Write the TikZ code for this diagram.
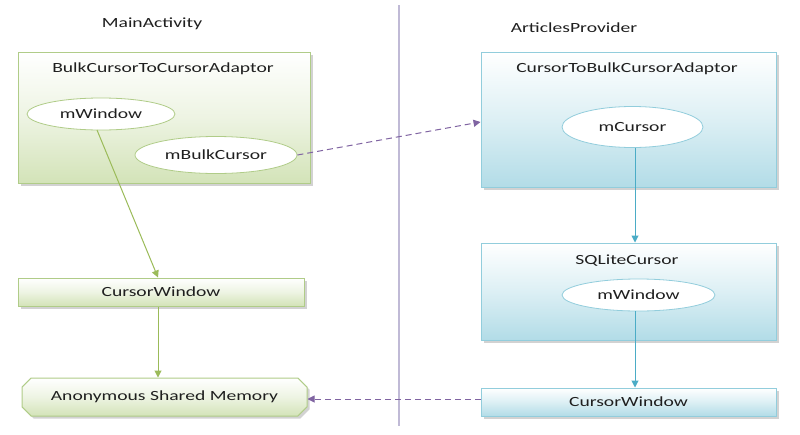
\documentclass[tikz,border=0pt]{standalone}
\usepackage{fontspec}
\setmainfont{Carlito}[FakeStretch=1.4]
\usetikzlibrary{arrows.meta,shapes.misc,shapes.geometric,shadows}
\definecolor{gfill}{HTML}{D3E3B8}
\definecolor{gdraw}{HTML}{B0CC88}
\definecolor{gline}{HTML}{9BBB59}
\definecolor{bfill}{HTML}{B2DCE7}
\definecolor{bdraw}{HTML}{92CDDC}
\definecolor{bline}{HTML}{4BACC6}
\definecolor{pline}{HTML}{8064A2}
\definecolor{divc}{HTML}{C0BAD6}
\definecolor{txt}{HTML}{1F1F1F}
\begin{document}
\begin{tikzpicture}[x=1pt,y=-1pt,
  every node/.style={font=\fontsize{14}{16}\selectfont, text=txt},
  shad/.style={drop shadow={shadow xshift=2.5pt,shadow yshift=-2.5pt,opacity=0.35,fill=gray}},
  gbox/.style={rectangle, draw=gdraw, line width=1pt, top color=white, bottom color=gfill, middle color=gfill!40, shad, inner sep=0pt},
  bbox/.style={rectangle, draw=bdraw, line width=1pt, top color=white, bottom color=bfill, middle color=bfill!45, shad, inner sep=0pt},
  gell/.style={ellipse, draw=gdraw, fill=white, line width=0.8pt, inner sep=0pt},
  bell/.style={ellipse, draw=bdraw, fill=white, line width=0.8pt, inner sep=0pt},
  garr/.style={draw=gline, line width=1pt, -{Triangle[length=7pt,width=7pt]}},
  barr/.style={draw=bline, line width=1pt, -{Triangle[length=7pt,width=7pt]}},
  parr/.style={draw=pline, line width=1pt, dashed, dash pattern=on 6pt off 4pt, -{Triangle[length=7pt,width=7pt]}},
  plain/.style={inner sep=0pt}
]
\useasboundingbox[fill=white] (0,0) rectangle (800,434);
% divider
\draw[divc, line width=1.5pt] (399,5) -- (399,426);
% titles
\node[plain] (tl) at (152,24) {MainActivity};
\node[plain] (tr) at (574,28) {ArticlesProvider};
% left side
\node[gbox, minimum width=292pt, minimum height=131pt] (lb) at (164,117.5) {};
\node[plain] (lbt) at (163,69) {BulkCursorToCursorAdaptor};
\node[gell, minimum width=148pt, minimum height=32pt] (mw) at (101,114) {mWindow};
\node[gell, minimum width=162pt, minimum height=37pt] (mbc) at (216,155) {mBulkCursor};
\node[gbox, minimum width=286pt, minimum height=28pt] (cwl) at (161,292) {CursorWindow};
\node[chamfered rectangle, chamfered rectangle xsep=9pt, draw=gdraw, line width=1pt, top color=white, bottom color=gfill, middle color=gfill!40, shad, minimum width=285pt, minimum height=38pt, inner sep=0pt] (asm) at (164.5,397) {Anonymous Shared Memory};
% right side
\node[bbox, minimum width=295pt, minimum height=135pt] (rb) at (628.5,120) {};
\node[plain] (rbt) at (627,69) {CursorToBulkCursorAdaptor};
\node[bell, minimum width=141pt, minimum height=41pt] (mc) at (632.5,127) {mCursor};
\node[bbox, minimum width=295pt, minimum height=97pt] (sq) at (628.5,291.5) {};
\node[plain] (sqt) at (627,261) {SQLiteCursor};
\node[bell, minimum width=153pt, minimum height=32pt] (mw2) at (638.5,295) {mWindow};
\node[bbox, minimum width=295pt, minimum height=28pt] (cwr) at (628.5,402) {CursorWindow};
% connectors
\coordinate (e1) at (97,130);
\coordinate (e2) at (158,278);
\draw[garr] (e1) -- (cwl.north -| e2);
\draw[garr] (cwl.south -| e2) -- (asm.north -| e2);
\coordinate (p1) at (481,122);
\draw[parr] (mbc.east) -- (rb.west |- p1);
\coordinate (bx) at (635,0);
\draw[barr] (mc.south -| bx) -- (sq.north -| bx);
\draw[barr] (mw2.south -| bx) -- (cwr.north -| bx);
\coordinate (p2) at (0,399);
\draw[parr] (cwr.west |- p2) -- (asm.east |- p2);
\end{tikzpicture}
\end{document}
